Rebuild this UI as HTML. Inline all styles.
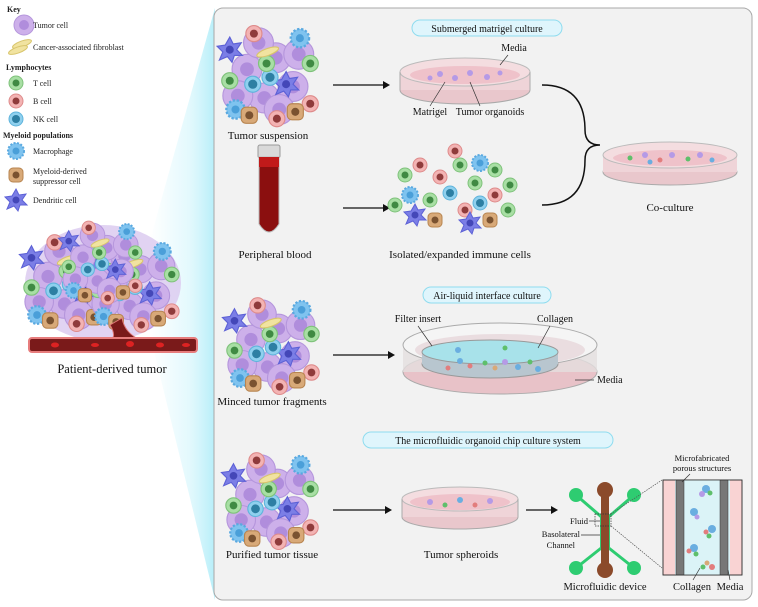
<!DOCTYPE html>
<html><head><meta charset="utf-8"><style>
html,body{margin:0;padding:0;background:#fff;}
svg{display:block;font-family:"Liberation Serif",serif;}
</style></head><body>
<svg width="758" height="607" viewBox="0 0 758 607" xmlns="http://www.w3.org/2000/svg">
<defs>
<linearGradient id="wedge" x1="0" x2="1" y1="0" y2="0">
<stop offset="0" stop-color="#c8f3fb" stop-opacity="0"/>
<stop offset="0.6" stop-color="#c8f3fb" stop-opacity="0.5"/>
<stop offset="1" stop-color="#b6eef9"/>
</linearGradient>
<g id="tum"><circle r="13" fill="#cdb0ea" stroke="#b596dc" stroke-width="1"/><circle r="6" fill="#b08ddc"/></g>
<g id="tc"><circle r="7" fill="#a8dfa4" stroke="#7fc27b"/><circle r="3.5" fill="#3f8a43"/></g>
<g id="bc"><circle r="7" fill="#f3b3b3" stroke="#de8b8b"/><circle r="3.5" fill="#8f3b3b"/></g>
<g id="nk"><circle r="7" fill="#8fd0ee" stroke="#5fb4dc"/><circle r="4" fill="#2d7fa3"/></g>
<g id="mac"><circle r="8" fill="#7fc3ef" stroke="#5aa9e0" stroke-width="2" stroke-dasharray="2 1.5"/><circle r="3.5" fill="#4a9fd9"/></g>
<g id="mds"><rect x="-7" y="-7" width="14" height="14" rx="4" fill="#d8a978" stroke="#b88550"/><circle r="3.5" fill="#7a5230"/></g>
<g id="dc"><path d="M0,-11 L3,-5 L10,-6 L6,0 L11,5 L4,5 L2,11 L-2,6 L-9,9 L-6,2 L-11,-3 L-4,-4 Z" fill="#7b7ee6" stroke="#5d61d6"/><circle r="3.5" fill="#4447b8"/></g>
<g id="fib"><ellipse rx="10" ry="3" fill="#f1e3a0" stroke="#d8c56c" transform="rotate(-20)"/></g>
<g id="clu">
<use href="#tum" x="-20" y="-5"/><use href="#tum" x="5" y="-15"/><use href="#tum" x="20" y="10"/><use href="#tum" x="-5" y="20"/><use href="#tum" x="-28" y="18"/>
<use href="#tum" x="-10" y="-28"/><use href="#tum" x="25" y="-18"/><use href="#tum" x="8" y="30"/>
<use href="#dc" x="-35" y="-22"/><use href="#dc" x="14" y="8"/><use href="#mac" x="26" y="-32"/><use href="#mac" x="-30" y="30"/>
<use href="#bc" x="-14" y="-36"/><use href="#tc" x="35" y="-10"/><use href="#tc" x="-35" y="5"/><use href="#bc" x="35" y="25"/>
<use href="#nk" x="0" y="2"/><use href="#mds" x="-18" y="35"/><use href="#mds" x="22" y="32"/><use href="#tc" x="-3" y="-10"/>
<use href="#fib" x="-2" y="-20"/><use href="#nk" x="-15" y="8"/><use href="#bc" x="6" y="38"/>
</g>
</defs>

<polygon points="150,240 215,8 215,600 150,335" fill="url(#wedge)"/>

<g font-size="8" fill="#222">
<text x="7" y="12" font-weight="bold">Key</text>
<circle cx="24" cy="25" r="10" fill="#cdb0ea" stroke="#b596dc"/><circle cx="24" cy="25" r="5" fill="#b08ddc"/><text x="33" y="28">Tumor cell</text>
<use href="#fib" x="22" y="44"/><use href="#fib" x="18" y="50"/><text x="33" y="50">Cancer-associated fibroblast</text>
<text x="6" y="70" font-weight="bold">Lymphocytes</text>
<use href="#tc" x="16" y="83"/><text x="33" y="86">T cell</text>
<use href="#bc" x="16" y="101"/><text x="33" y="104">B cell</text>
<use href="#nk" x="16" y="119"/><text x="33" y="122">NK cell</text>
<text x="3" y="138" font-weight="bold">Myeloid populations</text>
<use href="#mac" x="16" y="151"/><text x="33" y="154">Macrophage</text>
<use href="#mds" x="16" y="175"/><text x="33" y="174">Myeloid-derived</text><text x="33" y="184">suppressor cell</text>
<use href="#dc" x="16" y="200"/><text x="33" y="203">Dendritic cell</text>
</g>

<g>
<ellipse cx="103" cy="283" rx="78" ry="58" fill="#dccbf0" opacity="0.85"/>
<use href="#clu" transform="translate(70,282) scale(1.1)"/>
<use href="#clu" transform="translate(135,285) scale(1.05)"/>
<use href="#clu" transform="translate(102,262) scale(0.95)"/>
<path d="M110,325 Q118,338 108,342 L145,342 Q125,335 122,318 Z" fill="#7a1a1a" stroke="#e07a7a"/>
<rect x="29" y="338" width="168" height="14" rx="3" fill="#7a1a1a" stroke="#e77d7d" stroke-width="2"/>
<g fill="#d22">
<ellipse cx="55" cy="345" rx="4" ry="2.5"/><ellipse cx="95" cy="345" rx="4" ry="2"/><ellipse cx="130" cy="344" rx="4" ry="3"/><ellipse cx="160" cy="345" rx="4" ry="2.5"/><ellipse cx="186" cy="345" rx="4" ry="2"/>
</g>
<text x="112" y="373" font-size="12.5" text-anchor="middle" fill="#111">Patient-derived tumor</text>
</g>

<rect x="214" y="8" width="538" height="592" rx="9" fill="#f2f2f2" stroke="#a8a8a8"/>

<g font-size="11" fill="#111" text-anchor="middle">
<rect x="412" y="20" width="150" height="16" rx="8" fill="#dff5fc" stroke="#8fdcef"/>
<text x="487" y="32" font-size="10">Submerged matrigel culture</text>
<rect x="423" y="287" width="128" height="16" rx="8" fill="#dff5fc" stroke="#8fdcef"/>
<text x="487" y="299" font-size="10">Air-liquid interface culture</text>
<rect x="363" y="432" width="250" height="16" rx="8" fill="#dff5fc" stroke="#8fdcef"/>
<text x="488" y="444" font-size="10">The microfluidic organoid chip culture system</text>

<use href="#clu" transform="translate(270,75) scale(1.15)"/>
<text x="268" y="139">Tumor suspension</text>
<line x1="333" y1="85" x2="385" y2="85" stroke="#111" stroke-width="1.3"/><polygon points="390,85 383,81 383,89" fill="#111"/>
<ellipse cx="465" cy="90" rx="65" ry="14" fill="#e9c7cc" stroke="#aaa"/>
<rect x="400" y="72" width="130" height="18" fill="#efd4d8"/>
<ellipse cx="465" cy="72" rx="65" ry="14" fill="#f4dde0" stroke="#bbb"/>
<ellipse cx="465" cy="75" rx="55" ry="9" fill="#efc2ca"/>
<g fill="#b59ae6"><circle cx="440" cy="74" r="3"/><circle cx="455" cy="78" r="3"/><circle cx="470" cy="73" r="3"/><circle cx="487" cy="77" r="3"/><circle cx="500" cy="73" r="2.5"/><circle cx="430" cy="78" r="2.5"/></g>
<line x1="400" y1="72" x2="400" y2="90" stroke="#aaa"/><line x1="530" y1="72" x2="530" y2="90" stroke="#aaa"/>
<text x="514" y="51" font-size="10">Media</text><line x1="508" y1="55" x2="500" y2="65" stroke="#333" stroke-width="0.7"/>
<text x="430" y="115" font-size="10">Matrigel</text><line x1="430" y1="106" x2="445" y2="82" stroke="#333" stroke-width="0.7"/>
<text x="490" y="115" font-size="10">Tumor organoids</text><line x1="480" y1="106" x2="470" y2="82" stroke="#333" stroke-width="0.7"/>

<rect x="258" y="145" width="22" height="13" rx="2" fill="#d9d9d9" stroke="#999"/>
<path d="M259,157 L259,224 Q269,240 279,224 L279,157 Z" fill="#8b0f0f" stroke="#bbb"/>
<rect x="259" y="157" width="20" height="10" fill="#c11a1a"/>
<text x="275" y="258">Peripheral blood</text>
<line x1="343" y1="208" x2="385" y2="208" stroke="#111" stroke-width="1.3"/><polygon points="390,208 383,204 383,212" fill="#111"/>
<g transform="translate(460,195)">
<use href="#tc" x="-55" y="-20"/><use href="#bc" x="-40" y="-30"/><use href="#mac" x="-50" y="0"/><use href="#tc" x="-30" y="5"/><use href="#dc" x="-45" y="20"/>
<use href="#bc" x="-20" y="-18"/><use href="#nk" x="-10" y="-2"/><use href="#tc" x="0" y="-30"/><use href="#mds" x="-25" y="25"/><use href="#bc" x="5" y="15"/>
<use href="#tc" x="15" y="-12"/><use href="#mac" x="20" y="-32"/><use href="#nk" x="20" y="8"/><use href="#dc" x="10" y="28"/><use href="#tc" x="35" y="-25"/>
<use href="#bc" x="35" y="0"/><use href="#tc" x="48" y="15"/><use href="#mds" x="30" y="25"/><use href="#tc" x="50" y="-10"/><use href="#bc" x="-5" y="-44"/><use href="#tc" x="-65" y="10"/>
</g>
<text x="460" y="258">Isolated/expanded immune cells</text>
<path d="M542,85 Q585,85 585,130 Q585,145 600,145 Q585,145 585,160 Q585,205 542,205" fill="none" stroke="#111" stroke-width="1.5"/>
<ellipse cx="670" cy="172" rx="67" ry="13" fill="#e9c7cc" stroke="#aaa"/>
<rect x="603" y="155" width="134" height="17" fill="#efd4d8"/>
<ellipse cx="670" cy="155" rx="67" ry="13" fill="#f4dde0" stroke="#bbb"/>
<ellipse cx="670" cy="158" rx="57" ry="8" fill="#efc2ca"/>
<g><circle cx="630" cy="158" r="2.5" fill="#5fbf6b"/><circle cx="645" cy="155" r="3" fill="#b59ae6"/><circle cx="660" cy="160" r="2.5" fill="#e27d7d"/><circle cx="672" cy="155" r="3" fill="#b59ae6"/><circle cx="688" cy="159" r="2.5" fill="#5fbf6b"/><circle cx="700" cy="155" r="3" fill="#b59ae6"/><circle cx="712" cy="160" r="2.5" fill="#6aaee0"/><circle cx="650" cy="162" r="2.5" fill="#6aaee0"/></g>
<text x="670" y="211">Co-culture</text>

<use href="#clu" transform="translate(273,345) scale(1.1)"/>
<text x="272" y="405">Minced tumor fragments</text>
<line x1="333" y1="355" x2="390" y2="355" stroke="#111" stroke-width="1.3"/><polygon points="395,355 388,351 388,359" fill="#111"/>
<ellipse cx="500" cy="372" rx="97" ry="22" fill="#e8c2c8" stroke="#aaa"/>
<rect x="403" y="345" width="194" height="27" fill="#e4dede" opacity="0.8"/>
<ellipse cx="500" cy="345" rx="97" ry="22" fill="#f5f5f5" stroke="#aaa"/>
<ellipse cx="500" cy="350" rx="85" ry="16" fill="#eadde0"/>
<ellipse cx="490" cy="364" rx="68" ry="14" fill="#b8c6cf" stroke="#999"/>
<rect x="422" y="352" width="136" height="12" fill="#b8c6cf"/>
<ellipse cx="490" cy="352" rx="68" ry="12" fill="#a8e2ea" stroke="#999"/>
<g><circle cx="460" cy="361" r="3" fill="#6aaee0"/><circle cx="470" cy="366" r="2.5" fill="#e27d7d"/><circle cx="485" cy="363" r="2.5" fill="#5fbf6b"/><circle cx="495" cy="368" r="2.5" fill="#d8a978"/><circle cx="505" cy="362" r="3" fill="#b59ae6"/><circle cx="518" cy="367" r="3" fill="#6aaee0"/><circle cx="530" cy="362" r="2.5" fill="#5fbf6b"/><circle cx="448" cy="368" r="2.5" fill="#e27d7d"/><circle cx="538" cy="369" r="3" fill="#6aaee0"/><circle cx="458" cy="350" r="3" fill="#6aaee0"/><circle cx="505" cy="348" r="2.5" fill="#5fbf6b"/></g>
<text x="418" y="322" font-size="10">Filter insert</text><line x1="418" y1="326" x2="432" y2="346" stroke="#333" stroke-width="0.7"/>
<text x="555" y="322" font-size="10">Collagen</text><line x1="550" y1="326" x2="538" y2="348" stroke="#333" stroke-width="0.7"/>
<text x="597" y="383" font-size="10" text-anchor="start">Media</text><line x1="575" y1="380" x2="594" y2="380" stroke="#333" stroke-width="0.7"/>

<use href="#clu" transform="translate(272,500) scale(1.1)"/>
<text x="272" y="558">Purified tumor tissue</text>
<line x1="333" y1="510" x2="387" y2="510" stroke="#111" stroke-width="1.3"/><polygon points="392,510 385,506 385,514" fill="#111"/>
<ellipse cx="460" cy="517" rx="58" ry="12" fill="#e9c7cc" stroke="#aaa"/>
<rect x="402" y="499" width="116" height="18" fill="#efd4d8"/>
<ellipse cx="460" cy="499" rx="58" ry="12" fill="#f4dde0" stroke="#bbb"/>
<ellipse cx="460" cy="502" rx="50" ry="8" fill="#efc2ca"/>
<g><circle cx="430" cy="502" r="3" fill="#b59ae6"/><circle cx="445" cy="505" r="2.5" fill="#5fbf6b"/><circle cx="460" cy="500" r="3" fill="#6aaee0"/><circle cx="475" cy="505" r="2.5" fill="#e27d7d"/><circle cx="490" cy="501" r="3" fill="#b59ae6"/></g>
<line x1="402" y1="499" x2="402" y2="517" stroke="#aaa"/><line x1="518" y1="499" x2="518" y2="517" stroke="#aaa"/>
<text x="461" y="558">Tumor spheroids</text>
<line x1="526" y1="510" x2="553" y2="510" stroke="#111" stroke-width="1.3"/><polygon points="558,510 551,506 551,514" fill="#111"/>

<g stroke="#2ecc71" stroke-width="3" fill="none">
<line x1="576" y1="495" x2="605" y2="520"/><line x1="634" y1="495" x2="605" y2="520"/>
<line x1="576" y1="568" x2="605" y2="545"/><line x1="634" y1="568" x2="605" y2="545"/>
</g>
<rect x="600" y="515" width="10" height="35" fill="#2ecc71"/>
<circle cx="576" cy="495" r="7" fill="#2ecc71"/><circle cx="634" cy="495" r="7" fill="#2ecc71"/>
<circle cx="576" cy="568" r="7" fill="#2ecc71"/><circle cx="634" cy="568" r="7" fill="#2ecc71"/>
<rect x="601" y="490" width="8" height="80" fill="#8b4a2b"/>
<circle cx="605" cy="490" r="8" fill="#8b4a2b"/><circle cx="605" cy="570" r="8" fill="#8b4a2b"/>
<rect x="595" y="514" width="16" height="12" fill="none" stroke="#333" stroke-width="0.7" stroke-dasharray="1.5 1"/>
<line x1="611" y1="514" x2="662" y2="480" stroke="#555" stroke-width="0.7" stroke-dasharray="1.5 1"/>
<line x1="611" y1="526" x2="662" y2="568" stroke="#555" stroke-width="0.7" stroke-dasharray="1.5 1"/>
<g font-size="8.5">
<text x="588" y="524" text-anchor="end">Fluid</text><line x1="589" y1="521" x2="600" y2="521" stroke="#333" stroke-width="0.7"/>
<text x="580" y="537" text-anchor="end">Basolateral</text><line x1="581" y1="535" x2="600" y2="535" stroke="#333" stroke-width="0.7"/>
<text x="575" y="548" text-anchor="end">Channel</text>
</g>
<text x="605" y="590" font-size="10.5">Microfluidic device</text>
<rect x="663" y="480" width="79" height="95" fill="#f9d3d3" stroke="#333" stroke-width="0.8"/>
<rect x="675" y="480" width="55" height="95" fill="#dbf3f7"/>
<rect x="676" y="480" width="8" height="95" fill="#777" stroke="#333" stroke-width="0.5"/>
<rect x="720" y="480" width="8" height="95" fill="#777" stroke="#333" stroke-width="0.5"/>
<rect x="663" y="480" width="79" height="95" fill="none" stroke="#333" stroke-width="0.8"/>
<g><circle cx="706" cy="489" r="4" fill="#6aaee0"/><circle cx="710" cy="493" r="2.5" fill="#5fbf6b"/><circle cx="702" cy="494" r="3" fill="#b59ae6"/>
<circle cx="694" cy="512" r="4" fill="#6aaee0"/><circle cx="697" cy="517" r="2.5" fill="#b59ae6"/>
<circle cx="712" cy="529" r="4" fill="#6aaee0"/><circle cx="706" cy="532" r="2.5" fill="#e27d7d"/><circle cx="709" cy="536" r="2.5" fill="#5fbf6b"/>
<circle cx="694" cy="548" r="4" fill="#6aaee0"/><circle cx="689" cy="551" r="2.5" fill="#e27d7d"/><circle cx="696" cy="554" r="2.5" fill="#5fbf6b"/>
<circle cx="707" cy="563" r="2.5" fill="#d8a978"/><circle cx="712" cy="567" r="3" fill="#e27d7d"/><circle cx="703" cy="567" r="2.5" fill="#5fbf6b"/></g>
<text x="702" y="461" font-size="8.5">Microfabricated</text>
<text x="702" y="471" font-size="8.5">porous structures</text>
<line x1="690" y1="474" x2="682" y2="482" stroke="#333" stroke-width="0.7"/>
<text x="692" y="590" font-size="10.5">Collagen</text><line x1="693" y1="580" x2="700" y2="568" stroke="#333" stroke-width="0.7"/>
<text x="730" y="590" font-size="10.5">Media</text><line x1="730" y1="580" x2="728" y2="570" stroke="#333" stroke-width="0.7"/>
</g>
</svg>
</body></html>
